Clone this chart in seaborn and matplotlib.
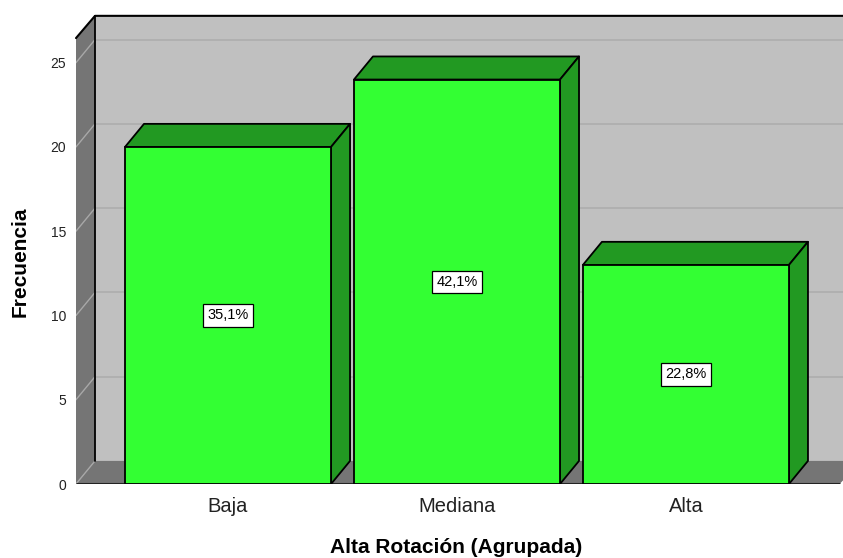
import matplotlib
matplotlib.use("Agg")
import matplotlib.pyplot as plt
from matplotlib.patches import Polygon, Rectangle
import seaborn as sns
import pandas as pd

# Frequency table
categories = ["Baja", "Mediana", "Alta"]
counts = [20, 24, 13]
y_ticks = [0, 5, 10, 15, 20, 25]

total = sum(counts)
pct_labels = [f"{c / total * 100:.1f}".replace(".", ",") + "%" for c in counts]

sns.set_theme(style="white")
plt.rcParams["font.family"] = ["Liberation Sans", "DejaVu Sans"]

FRONT = "#33FF33"
SHADE = "#229922"
WALL = "#C0C0C0"
DARK = "#757575"

fig = plt.figure(figsize=(8.43, 5.58), dpi=100)
ax = fig.add_axes([76 / 843, 74 / 558, 767 / 843, 469 / 558])

df = pd.DataFrame({"cat": categories, "n": counts})
sns.barplot(data=df, x="cat", y="n", order=categories, color=FRONT,
            saturation=1, width=0.9, edgecolor="black", linewidth=1.3,
            ax=ax, zorder=5)

xmin, xmax = -0.664, 2.686
ymin, ymax = 0, 27.83
ax.set_xlim(xmin, xmax)
ax.set_ylim(ymin, ymax)

# depth offset of the 3D box, in data units
DX, DY = 0.083, 1.37

# back wall
ax.add_patch(Rectangle((xmin + DX, DY), xmax - xmin, ymax - DY,
                       facecolor=WALL, edgecolor="none", zorder=0))
# left wall
ax.add_patch(Polygon([(xmin, 0), (xmin + DX, DY), (xmin + DX, ymax),
                      (xmin, ymax - DY)], closed=True,
                     facecolor=DARK, edgecolor="none", zorder=1))
# floor
ax.add_patch(Polygon([(xmin, 0), (xmax - 0.015, 0), (xmax + DX, DY),
                      (xmin + DX, DY)], closed=True,
                     facecolor=DARK, edgecolor="none", zorder=1))

# grid lines on back wall and left wall
for v in y_ticks:
    if v > 0:
        ax.plot([xmin + DX, xmax], [v + DY, v + DY], color="#ADADAD",
                lw=1.2, zorder=0.5, solid_capstyle="butt")
    ax.plot([xmin, xmin + DX], [v, v + DY], color="#A8A8A8", lw=1.0,
            zorder=2)

# wall edges
ax.plot([xmin + DX, xmin + DX], [DY, ymax], color="black", lw=1.3, zorder=2)
ax.plot([xmin, xmin + DX, xmax], [ymax - DY, ymax - 0.05, ymax - 0.05],
        color="black", lw=1.5, zorder=2, clip_on=False)
ax.plot([xmin, xmax - 0.015], [0, 0], color="#222222", lw=2.2, zorder=2,
        solid_capstyle="butt")

# top and side faces of the bars
for p in ax.patches[:]:
    if not isinstance(p, Rectangle) or p.get_facecolor()[:3] != matplotlib.colors.to_rgb(FRONT):
        continue
    x0 = p.get_x()
    x1 = x0 + p.get_width()
    h = p.get_height()
    ax.add_patch(Polygon([(x0, h), (x1, h), (x1 + DX, h + DY), (x0 + DX, h + DY)],
                         closed=True, facecolor=SHADE, edgecolor="black",
                         lw=1.3, zorder=4, joinstyle="round"))
    ax.add_patch(Polygon([(x1, 0), (x1 + DX, DY), (x1 + DX, h + DY), (x1, h)],
                         closed=True, facecolor=SHADE, edgecolor="black",
                         lw=1.3, zorder=4, joinstyle="round"))

# percentage labels in the middle of each bar
for i, (c, lab) in enumerate(zip(counts, pct_labels)):
    ax.text(i, c / 2, lab, ha="center", va="center", fontsize=10.5,
            color="black", zorder=6,
            bbox=dict(boxstyle="square,pad=0.28", facecolor="white",
                      edgecolor="black", linewidth=0.9))

for s in ax.spines.values():
    s.set_visible(False)

ax.set_yticks(y_ticks)
ax.set_yticklabels([str(v) for v in y_ticks])
ax.tick_params(axis="y", length=0, pad=7, labelsize=10, labelcolor="#222222")
ax.tick_params(axis="x", length=0, pad=9, labelsize=14.5, labelcolor="#222222")

ax.set_ylabel("Frecuencia", fontsize=15, fontweight="bold", color="black")
ax.yaxis.label.set_va("center")
ax.yaxis.set_label_coords(-0.073, 0.473)
ax.set_xlabel("Alta Rotación (Agrupada)", fontsize=15, fontweight="bold",
              color="black")
ax.xaxis.label.set_va("center")
ax.xaxis.set_label_coords(0.495, -0.136)

fig.savefig("out.png", dpi=100, facecolor="white")
